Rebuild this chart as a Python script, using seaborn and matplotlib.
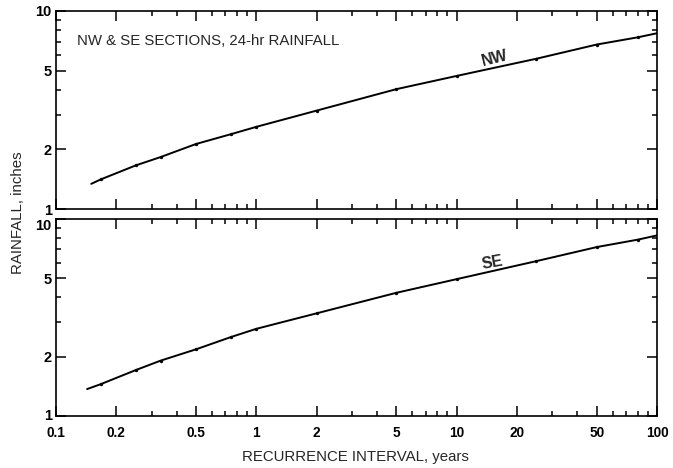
import numpy as np
import pandas as pd
import matplotlib
matplotlib.use('Agg')
import matplotlib.pyplot as plt
from matplotlib.ticker import FixedLocator, FixedFormatter, NullFormatter
import seaborn as sns

# recurrence interval, years (first and last are curve ends without a marker)
nw_years = [0.15, 0.167, 0.25, 0.333, 0.5, 0.75, 1, 2, 5, 10, 25, 50, 80, 100]
nw_rain = [1.34, 1.41, 1.66, 1.83, 2.13, 2.39, 2.60, 3.14, 4.03, 4.70, 5.74, 6.77, 7.36, 7.72]

se_years = [0.143, 0.167, 0.25, 0.333, 0.5, 0.75, 1, 2, 5, 10, 25, 50, 80, 100]
se_rain = [1.37, 1.45, 1.71, 1.91, 2.18, 2.52, 2.77, 3.32, 4.22, 4.95, 6.11, 7.2, 7.85, 8.25]

x_ticks = [0.1, 0.2, 0.5, 1, 2, 5, 10, 20, 50, 100]
x_ticklabels = ['0.1', '0.2', '0.5', '1', '2', '5', '10', '20', '50', '100']
y_ticks = [1, 2, 5, 10]
y_ticklabels = ['1', '2', '5', '10']

title = 'NW & SE SECTIONS, 24-hr RAINFALL'

sns.set_style('ticks')
plt.rcParams['font.family'] = ['Liberation Sans', 'DejaVu Sans']

fig = plt.figure(figsize=(6.73, 4.68), dpi=100)
ax1 = fig.add_axes([0.0832, 0.5534, 0.893, 0.4231])
ax2 = fig.add_axes([0.0832, 0.1111, 0.893, 0.4210])

x_minor = [v * m for v in [0.1, 1, 10] for m in range(2, 10)]
y_minor = [3, 4, 6, 7, 8, 9]


def panel(ax, years, rain, label, lx, ly, rot):
    df = pd.DataFrame({'years': years, 'rain': rain})
    sns.lineplot(data=df, x='years', y='rain', ax=ax, color='black', lw=1.4)
    sns.scatterplot(data=df.iloc[1:-1], x='years', y='rain', ax=ax, color='black',
                    s=6, marker='o', linewidth=0)
    ax.set_xscale('log')
    ax.set_yscale('log')
    ax.set_xlim(0.1, 100)
    ax.set_ylim(1, 10)
    ax.xaxis.set_major_locator(FixedLocator(x_ticks))
    ax.xaxis.set_minor_locator(FixedLocator(x_minor))
    ax.yaxis.set_major_locator(FixedLocator(y_ticks))
    ax.yaxis.set_minor_locator(FixedLocator(y_minor))
    ax.yaxis.set_major_formatter(FixedFormatter(y_ticklabels))
    ax.yaxis.set_minor_formatter(NullFormatter())
    ax.xaxis.set_minor_formatter(NullFormatter())
    ax.tick_params(which='both', direction='in', top=True, right=True, width=1.1, colors='black')
    ax.tick_params(which='major', length=7, labelsize=10.5, pad=3)
    ax.tick_params(axis='x', which='major', pad=7)
    ax.tick_params(which='minor', length=3.5)
    for s in ax.spines.values():
        s.set_linewidth(1.2)
        s.set_color('black')
    for t in ax.get_yticklabels():
        t.set_fontweight('bold')
    ax.set_xlabel('')
    ax.set_ylabel('')
    ax.text(lx, ly, label, fontsize=11.5, fontweight='bold', rotation=rot,
            ha='center', va='center')


panel(ax1, nw_years, nw_rain, 'NW', 15.5, 5.75, 14)
panel(ax2, se_years, se_rain, 'SE', 15, 6.0, 10)

ax1.xaxis.set_major_formatter(NullFormatter())
ax2.xaxis.set_major_formatter(FixedFormatter(x_ticklabels))
for t in ax2.get_xticklabels():
    t.set_fontweight('bold')
    t.set_fontsize(9.8)

# keep the touching "1" / "10" labels of the two panels apart
ax2.get_yticklabels()[-1].set_va('top')
ax2.get_yticklabels()[0].set_va('center')

ax1.text(0.035, 0.85, title, transform=ax1.transAxes, fontsize=10.8, va='center', ha='left')

fig.text(0.027, 0.545, 'RAINFALL, inches', rotation=90, fontsize=10.8, ha='center', va='center')
fig.text(0.528, 0.023, 'RECURRENCE INTERVAL, years', fontsize=10.8, ha='center', va='center')

fig.savefig('out.png', dpi=100)
